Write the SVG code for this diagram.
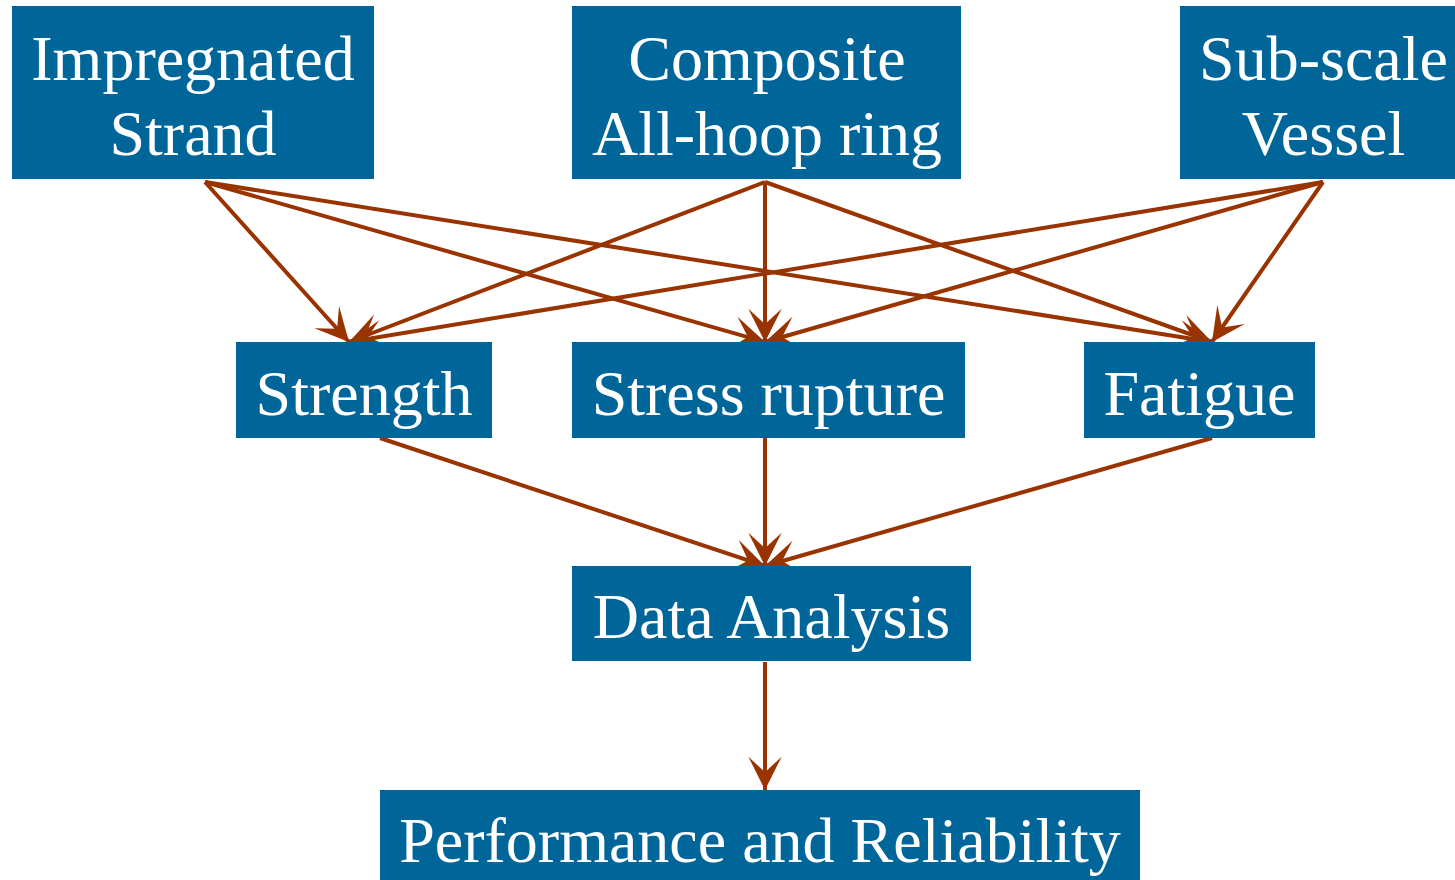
<svg xmlns="http://www.w3.org/2000/svg" width="1455" height="880" viewBox="0 0 1455 880">
<defs>
<style>
.box{fill:#006699}
.lbl{font-family:"Liberation Serif","Times New Roman",serif;font-size:64px;fill:#ffffff;text-anchor:middle}
.edge{stroke:#993300;stroke-width:4;fill:none;marker-end:url(#ah)}
</style>
<marker id="ah" markerUnits="userSpaceOnUse" markerWidth="40" markerHeight="40" viewBox="-32 -18 34 36" refX="0" refY="0" orient="auto">
<path d="M0,0 L-30,-15 L-16,0 L-30,15 Z" fill="#993300"/>
</marker>
</defs>
<rect width="1455" height="880" fill="#ffffff"/>
<g id="connectors">
<line class="edge" x1="205" y1="182" x2="349" y2="342"/>
<line class="edge" x1="205" y1="182" x2="765" y2="342"/>
<line class="edge" x1="205" y1="182" x2="1212" y2="342"/>
<line class="edge" x1="765" y1="182" x2="349" y2="342"/>
<line class="edge" x1="765" y1="182" x2="765" y2="342"/>
<line class="edge" x1="765" y1="182" x2="1212" y2="342"/>
<line class="edge" x1="1323" y1="182" x2="349" y2="342"/>
<line class="edge" x1="1323" y1="182" x2="765" y2="342"/>
<line class="edge" x1="1323" y1="182" x2="1212" y2="342"/>
<line class="edge" x1="380" y1="438" x2="765" y2="566"/>
<line class="edge" x1="765" y1="438" x2="765" y2="566"/>
<line class="edge" x1="1212" y1="438" x2="765" y2="566"/>
<line class="edge" x1="765" y1="662" x2="765" y2="790"/>
</g>
<g id="n1"><rect class="box" x="12" y="6" width="362" height="173"/><text class="lbl" x="193" y="80">Impregnated</text><text class="lbl" x="193" y="155">Strand</text></g>
<g id="n2"><rect class="box" x="572" y="6" width="389" height="173"/><text class="lbl" x="767" y="80">Composite</text><text class="lbl" x="767" y="155">All-hoop ring</text></g>
<g id="n3"><rect class="box" x="1180" y="6" width="287" height="173"/><text class="lbl" x="1323.5" y="80">Sub-scale</text><text class="lbl" x="1323.5" y="155">Vessel</text></g>
<g id="n4"><rect class="box" x="236" y="342" width="256" height="96"/><text class="lbl" x="364" y="415">Strength</text></g>
<g id="n5"><rect class="box" x="572" y="342" width="393" height="96"/><text class="lbl" x="768.5" y="415">Stress rupture</text></g>
<g id="n6"><rect class="box" x="1084" y="342" width="231" height="96"/><text class="lbl" x="1199.5" y="415">Fatigue</text></g>
<g id="n7"><rect class="box" x="572" y="566" width="399" height="95"/><text class="lbl" x="771.5" y="638">Data Analysis</text></g>
<g id="n8"><rect class="box" x="380" y="790" width="760" height="95"/><text class="lbl" x="760" y="862">Performance and Reliability</text></g>
</svg>
